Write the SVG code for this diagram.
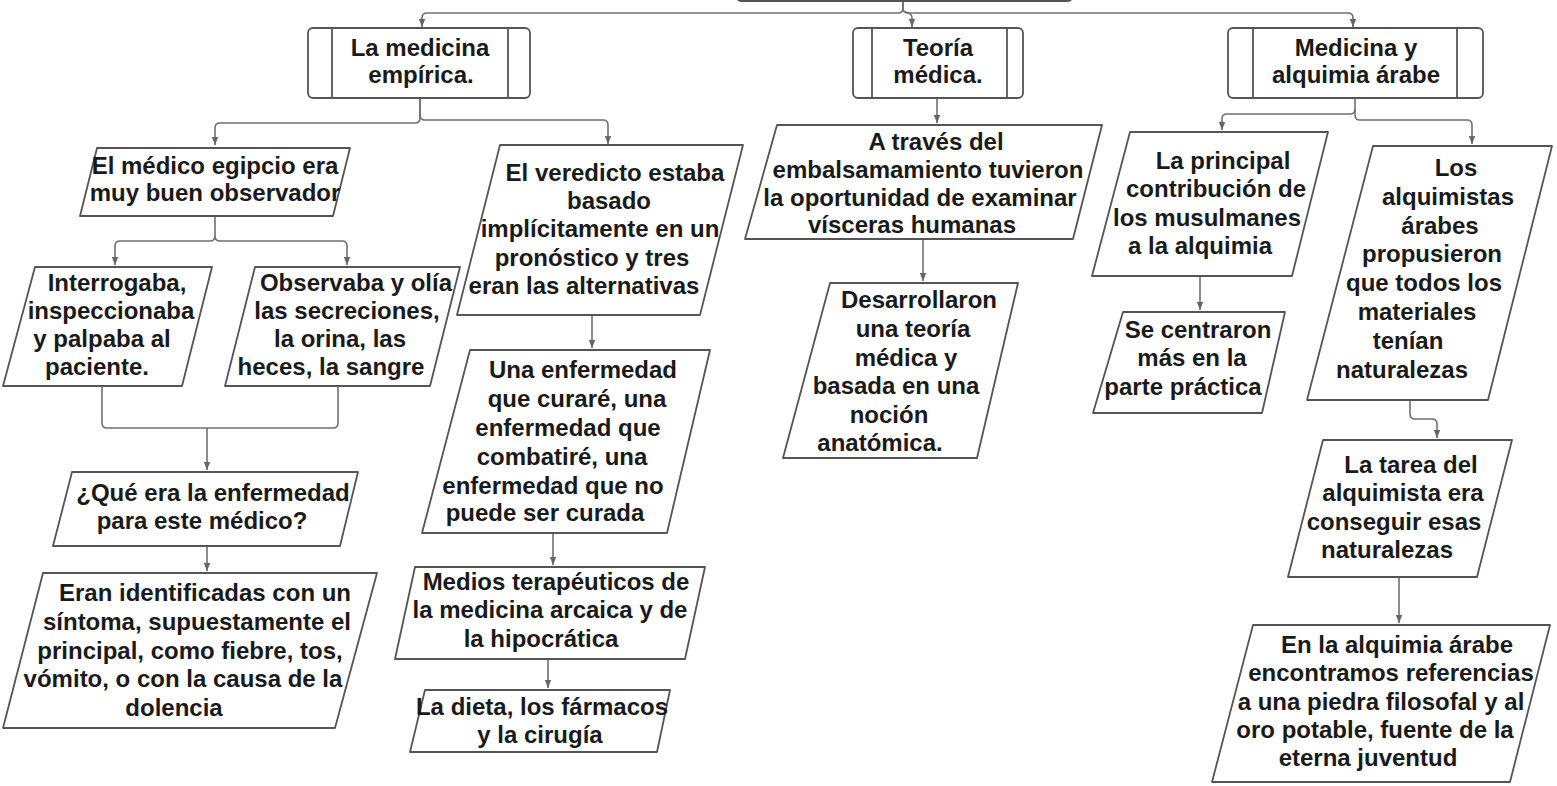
<svg xmlns="http://www.w3.org/2000/svg" width="1557" height="786" viewBox="0 0 1557 786">
<defs>
<marker id="arr" viewBox="0 0 10 10" refX="10" refY="5" markerWidth="8" markerHeight="8" markerUnits="userSpaceOnUse" orient="auto"><path d="M0,1 L10,5 L0,9 z" fill="#666"/></marker>
<style>
.n{fill:#fff;stroke:#555;stroke-width:1.8;stroke-linejoin:round}
.bar{stroke:#555;stroke-width:1.8}
.c{fill:none;stroke:#707070;stroke-width:1.6;marker-end:url(#arr)}
.cl{fill:none;stroke:#707070;stroke-width:1.6}
text{font-family:"Liberation Sans",Arial,sans-serif;font-weight:bold;font-size:24px;fill:#1a1a1a;text-anchor:middle}
</style>
</defs>
<rect width="1557" height="786" fill="#fff"/>
<g id="connectors">
<path class="c" d="M903,0 V8 Q903,13 898,13 H427 Q422,13 422,18 V27"/>
<path class="c" d="M903,0 V8 Q903,13 908,13 H1348 Q1353,13 1353,18 V27"/>
<path class="c" d="M905,12 Q912,13 912,18 V27"/>
<path class="c" d="M937,98 V123"/>
<path class="c" d="M420,98 V118 Q420,123 415,123 H220 Q215,123 215,128 V145"/>
<path class="c" d="M420,98 V115 Q420,120 425,120 H603 Q608,120 608,125 V144"/>
<path class="c" d="M215,216 V236 Q215,241 210,241 H120 Q115,241 115,246 V265"/>
<path class="c" d="M215,236 Q215,241 220,241 H342 Q347,241 347,246 V265"/>
<path class="cl" d="M102,386 V423 Q102,428 107,428 H333 Q338,428 338,423 V386"/>
<path class="c" d="M207,428 V470"/>
<path class="c" d="M207,546 V571"/>
<path class="c" d="M592,315 V348"/>
<path class="c" d="M553,533 V565"/>
<path class="c" d="M548,659 V688"/>
<path class="c" d="M923,239 V281"/>
<path class="c" d="M1355,98 V109 Q1355,114 1350,114 H1227 Q1222,114 1222,119 V130"/>
<path class="c" d="M1355,109 V115 Q1355,120 1360,120 H1467 Q1472,120 1472,125 V144"/>
<path class="c" d="M1200,276 V310"/>
<path class="c" d="M1410,400 V414 Q1410,419 1415,419 H1432 Q1437,419 1437,424 V438"/>
<path class="c" d="M1399,577 V623"/>
</g>
<g id="top">
<rect class="n" x="737" y="-40" width="335" height="41" rx="4"/>
</g>
<g id="n-medicina-empirica">
<rect class="n" x="308" y="28" width="222" height="70" rx="5"/>
<line class="bar" x1="332" y1="28" x2="332" y2="98"/>
<line class="bar" x1="508" y1="28" x2="508" y2="98"/>
<text x="420" y="56">La medicina</text>
<text x="421" y="83">empírica.</text>
</g>
<g id="n-teoria">
<rect class="n" x="853" y="28" width="170" height="70" rx="5"/>
<line class="bar" x1="872" y1="28" x2="872" y2="98"/>
<line class="bar" x1="1007" y1="28" x2="1007" y2="98"/>
<text x="938" y="56">Teoría</text>
<text x="938" y="83">médica.</text>
</g>
<g id="n-arabe">
<rect class="n" x="1228" y="28" width="255" height="70" rx="5"/>
<line class="bar" x1="1253" y1="28" x2="1253" y2="98"/>
<line class="bar" x1="1457" y1="28" x2="1457" y2="98"/>
<text x="1356" y="56">Medicina y</text>
<text x="1356" y="83">alquimia árabe</text>
</g>
<g id="n-medico">
<polygon class="n" points="97,148 350,148 333,216 80,216"/>
<text x="215" y="174">El médico egipcio era</text>
<text x="215" y="201">muy buen observador</text>
</g>
<g id="n-interrogaba">
<polygon class="n" points="35,267 212,267 182,386 3,386"/>
<text x="117" y="291">Interrogaba,</text>
<text x="111" y="319">inspeccionaba</text>
<text x="102" y="347">y palpaba al</text>
<text x="97" y="375">paciente.</text>
</g>
<g id="n-observaba">
<polygon class="n" points="255,267 460,267 430,386 225,386"/>
<text x="356" y="291">Observaba y olía</text>
<text x="347" y="319">las secreciones,</text>
<text x="340" y="347">la orina, las</text>
<text x="331" y="375">heces, la sangre</text>
</g>
<g id="n-que">
<polygon class="n" points="72,472 358,472 340,546 53,546"/>
<text x="213" y="501">¿Qué era la enfermedad</text>
<text x="202" y="529">para este médico?</text>
</g>
<g id="n-eran">
<polygon class="n" points="43,573 377,573 335,728 3,728"/>
<text x="205" y="601">Eran identificadas con un</text>
<text x="197" y="630">síntoma, supuestamente el</text>
<text x="190" y="659">principal, como fiebre, tos,</text>
<text x="183" y="687">vómito, o con la causa de la</text>
<text x="174" y="716">dolencia</text>
</g>
<g id="n-veredicto">
<polygon class="n" points="500,145 743,145 700,315 457,315"/>
<text x="615" y="181">El veredicto estaba</text>
<text x="609" y="209">basado</text>
<text x="600" y="237">implícitamente en un</text>
<text x="592" y="266">pronóstico y tres</text>
<text x="584" y="294">eran las alternativas</text>
</g>
<g id="n-una">
<polygon class="n" points="470,350 710,350 667,533 422,533"/>
<text x="583" y="378">Una enfermedad</text>
<text x="577" y="407">que curaré, una</text>
<text x="568" y="436">enfermedad que</text>
<text x="562" y="465">combatiré, una</text>
<text x="553" y="494">enfermedad que no</text>
<text x="545" y="521">puede ser curada</text>
</g>
<g id="n-medios">
<polygon class="n" points="415,567 705,567 685,659 395,659"/>
<text x="556" y="590">Medios terapéuticos de</text>
<text x="550" y="618">la medicina arcaica y de</text>
<text x="541" y="647">la hipocrática</text>
</g>
<g id="n-dieta">
<polygon class="n" points="425,690 670,690 657,752 410,752"/>
<text x="542" y="715">La dieta, los fármacos</text>
<text x="540" y="743">y la cirugía</text>
</g>
<g id="n-traves">
<polygon class="n" points="777,125 1102,125 1073,239 745,239"/>
<text x="936" y="150">A través del</text>
<text x="928" y="178">embalsamamiento tuvieron</text>
<text x="920" y="206">la oportunidad de examinar</text>
<text x="912" y="233">vísceras humanas</text>
</g>
<g id="n-desarrollaron">
<polygon class="n" points="830,283 1018,283 977,458 783,458"/>
<text x="919" y="308">Desarrollaron</text>
<text x="913" y="337">una teoría</text>
<text x="906" y="366">médica y</text>
<text x="896" y="394">basada en una</text>
<text x="889" y="423">noción</text>
<text x="880" y="451">anatómica.</text>
</g>
<g id="n-principal">
<polygon class="n" points="1130,132 1328,132 1292,276 1092,276"/>
<text x="1223" y="169">La principal</text>
<text x="1216" y="197">contribución de</text>
<text x="1207" y="226">los musulmanes</text>
<text x="1200" y="254">a la alquimia</text>
</g>
<g id="n-centraron">
<polygon class="n" points="1123,312 1285,312 1262,413 1093,413"/>
<text x="1198" y="338">Se centraron</text>
<text x="1192" y="366">más en la</text>
<text x="1183" y="395">parte práctica</text>
</g>
<g id="n-alquimistas">
<polygon class="n" points="1373,146 1552,146 1488,400 1307,400"/>
<text x="1456" y="176">Los</text>
<text x="1448" y="205">alquimistas</text>
<text x="1440" y="234">árabes</text>
<text x="1432" y="262">propusieron</text>
<text x="1424" y="291">que todos los</text>
<text x="1417" y="320">materiales</text>
<text x="1408" y="349">tenían</text>
<text x="1402" y="378">naturalezas</text>
</g>
<g id="n-tarea">
<polygon class="n" points="1323,440 1512,440 1477,577 1288,577"/>
<text x="1411" y="473">La tarea del</text>
<text x="1403" y="501">alquimista era</text>
<text x="1394" y="530">conseguir esas</text>
<text x="1387" y="558">naturalezas</text>
</g>
<g id="n-piedra">
<polygon class="n" points="1253,625 1550,625 1510,782 1212,782"/>
<text x="1397" y="653">En la alquimia árabe</text>
<text x="1391" y="681">encontramos referencias</text>
<text x="1381" y="710">a una piedra filosofal y al</text>
<text x="1375" y="738">oro potable, fuente de la</text>
<text x="1368" y="766">eterna juventud</text>
</g>
</svg>
